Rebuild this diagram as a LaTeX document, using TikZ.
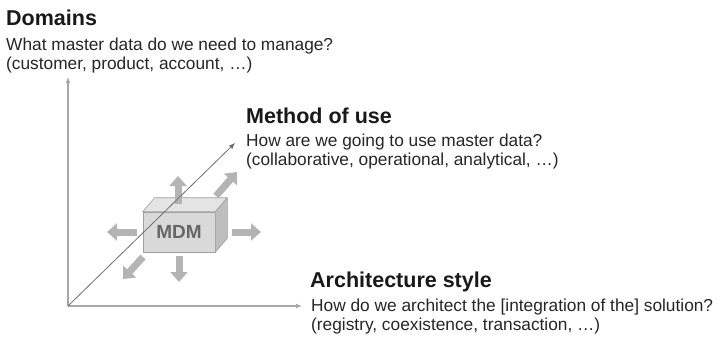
\documentclass[tikz,border=0pt]{standalone}
\usepackage{fontspec}
\setmainfont{Liberation Sans}
\usetikzlibrary{arrows.meta, positioning, calc}

\definecolor{axisgray}{HTML}{A8A8A8}
\definecolor{diaggray}{HTML}{6E6E6E}
\definecolor{pushgray}{HTML}{B4B4B4}
\definecolor{frontgray}{HTML}{D9D9D9}
\definecolor{topgray}{HTML}{E4E4E4}
\definecolor{sidegray}{HTML}{BEBEBE}
\definecolor{edgegray}{HTML}{A0A0A0}
\definecolor{labelgray}{HTML}{666666}

\begin{document}
\begin{tikzpicture}[
    x=1pt, y=-1pt,
    heading/.style={anchor=base west, inner sep=0pt, font=\fontsize{21.5}{24}\selectfont\bfseries, text=black!90},
    caption/.style={anchor=base west, inner sep=0pt, font=\fontsize{17.3}{19}\selectfont, text=black!85},
    axis/.style={draw=axisgray, line width=1.4pt, -{Latex[length=6pt, width=5pt]}},
    diag/.style={draw=diaggray, line width=0.8pt, -{Latex[length=6pt, width=5pt]}},
    push/.style={draw=pushgray, line width=7pt, -{Triangle[length=10pt, width=17pt]}},
    face/.style={draw=edgegray, line width=0.6pt, line join=round},
    cube/.style={face, fill=frontgray, minimum width=72pt, minimum height=40pt, inner sep=0pt,
                 font=\fontsize{19}{21}\selectfont\bfseries, text=labelgray}
]
\useasboundingbox (0,0) rectangle (718,340);

% Axes
\coordinate (origin) at (68,306);
\coordinate (ytip) at (68,77);
\coordinate (xtip) at (302,306);
\coordinate (ztip) at (235,143);
\draw[axis] (origin) -- (ytip);
\draw[axis] (origin) -- (xtip);

% Labels
\node[heading] (domains) at (6,25) {Domains};
\node[caption] (domq) at (6,50) {What master data do we need to manage?};
\node[caption] (domex) at (6,69) {(customer, product, account, \dots)};

\node[heading] (method) at (246,123) {Method of use};
\node[caption] (methq) at (246,146) {How are we going to use master data?};
\node[caption] (methex) at (246,165) {(collaborative, operational, analytical, \dots)};

\node[heading] (arch) at (310,287) {Architecture style};
\node[caption] (archq) at (311,311) {How do we architect the [integration of the] solution?};
\node[caption] (archex) at (311,330) {(registry, coexistence, transaction, \dots)};

% MDM box
\node[cube] (mdm) at (179,232) {MDM};
\draw[face, fill=topgray] (mdm.north west) -- ++(12,-14) -- ($(mdm.north east)+(12,-14)$) -- (mdm.north east) -- cycle;
\draw[face, fill=sidegray] (mdm.north east) -- ++(12,-14) -- ($(mdm.south east)+(12,-14)$) -- (mdm.south east) -- cycle;

% Push arrows
\draw[push] (178,204) -- (178,176);
\draw[push] (216,196) -- (237,172);
\draw[push] (mdm.west) ++(-6,0) -- (107,232);
\draw[push] ($(mdm.east)+(17,0)$) -- (261,232);
\draw[push] (179,256) -- (179,282);
\draw[push] (143,257) -- (123,279);

% Diagonal axis
\draw[diag] (origin) -- (ztip);

\end{tikzpicture}
\end{document}
